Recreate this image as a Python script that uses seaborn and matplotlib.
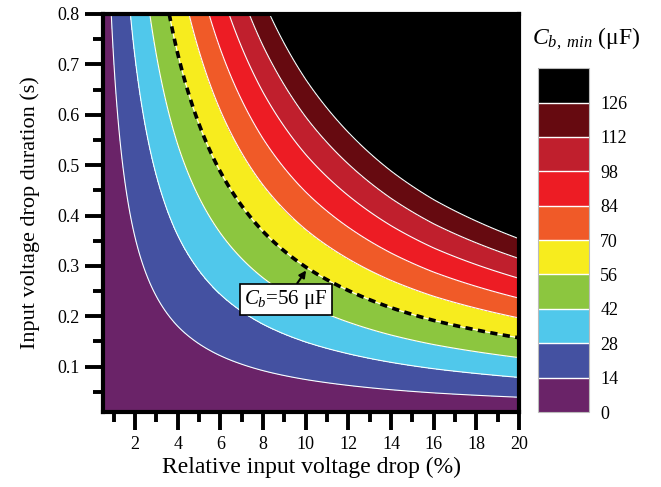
import numpy as np
import matplotlib
matplotlib.use('Agg')
import matplotlib.pyplot as plt
import seaborn as sns

# values: minimum capacitance per second of drop, vs relative drop
drop_pct = [0.5, 1, 2, 4, 6, 8, 10, 12, 14, 16, 18, 20]
cap_per_second = [9.9, 19.7, 39.2, 77.6, 115, 152, 188, 223, 258, 292, 324, 356]

levels = [0, 14, 28, 42, 56, 70, 84, 98, 112, 126, 400]
tick_levels = [0, 14, 28, 42, 56, 70, 84, 98, 112, 126]
level_colors = ['#6a2368', '#4451a1', '#50c8eb', '#8cc63f', '#f7ec1e',
                '#f05a28', '#ed1c24', '#c01f2d', '#660a10', '#000000']

x_ticks = [2, 4, 6, 8, 10, 12, 14, 16, 18, 20]
y_ticks = [0.1, 0.2, 0.3, 0.4, 0.5, 0.6, 0.7, 0.8]

sns.set_style('ticks')
plt.rcParams['font.family'] = ['Liberation Serif', 'DejaVu Serif']
plt.rcParams['mathtext.fontset'] = 'custom'
plt.rcParams['mathtext.rm'] = 'Liberation Serif'
plt.rcParams['mathtext.it'] = 'Liberation Serif:italic'
plt.rcParams['text.color'] = 'black'
plt.rcParams['axes.labelcolor'] = 'black'
plt.rcParams['xtick.color'] = 'black'
plt.rcParams['ytick.color'] = 'black'

# evaluation mesh
xg = np.linspace(0.5, 20, 500)
tg = np.linspace(0.01, 0.8, 500)
X, T = np.meshgrid(xg, tg)
Z = np.outer(tg, np.interp(xg, drop_pct, cap_per_second))

fig = plt.figure(figsize=(6.61, 4.87), dpi=100)
ax = fig.add_axes([0.1558, 0.154, 0.6294, 0.8173])
cax = fig.add_axes([0.814, 0.154, 0.0772, 0.706])

cf = ax.contourf(X, T, Z, levels=levels, colors=level_colors)
ax.contour(X, T, Z, levels=tick_levels[1:], colors='white', linewidths=0.8)
ax.contour(X, T, Z, levels=[56], colors='black', linewidths=2.6,
           linestyles=[(0, (2.0, 1.5))])

ax.set_xlim(0.5, 20)
ax.set_ylim(0.01, 0.8)
ax.set_xticks(x_ticks)
ax.set_xticks([1, 3, 5, 7, 9, 11, 13, 15, 17, 19], minor=True)
ax.set_yticks(y_ticks)
ax.set_yticks([0.05, 0.15, 0.25, 0.35, 0.45, 0.55, 0.65, 0.75], minor=True)
ax.set_yticklabels(['0.1', '0.2', '0.3', '0.4', '0.5', '0.6', '0.7', '0.8'])
ax.tick_params(which='major', length=13, width=2.8, labelsize=13, pad=4, direction='out')
ax.tick_params(which='minor', length=7, width=2.8, direction='out')
for s in ax.spines.values():
    s.set_linewidth(3)
    s.set_color('black')
    s.set_visible(True)

ax.set_xlabel('Relative input voltage drop (%)', fontsize=17, labelpad=3)
ax.set_ylabel('Input voltage drop duration (s)', fontsize=16, labelpad=12)

ax.annotate(r'$C_b$=56 μF', xy=(10.02, 0.291), xytext=(9.08, 0.233),
            fontsize=15, ha='center', va='center',
            bbox=dict(boxstyle='square,pad=0.2', fc='white', ec='black', lw=1.2),
            arrowprops=dict(arrowstyle='-|>', color='black', lw=1.5,
                            mutation_scale=10, shrinkA=0, shrinkB=0))

cbar = fig.colorbar(cf, cax=cax, ticks=tick_levels, drawedges=True)
cbar.dividers.set_color('white')
cbar.dividers.set_linewidth(1.0)
cbar.outline.set_edgecolor('#bbbbbb')
cbar.outline.set_linewidth(0.8)
cbar.ax.tick_params(length=0, labelsize=13, pad=8)
cbar.ax.set_yticklabels([str(v) for v in tick_levels])
fig.text(0.887, 0.92, r'$C_{b,\ min}$ (μF)', fontsize=17, ha='center', va='center')

fig.savefig('out.png', dpi=100)
